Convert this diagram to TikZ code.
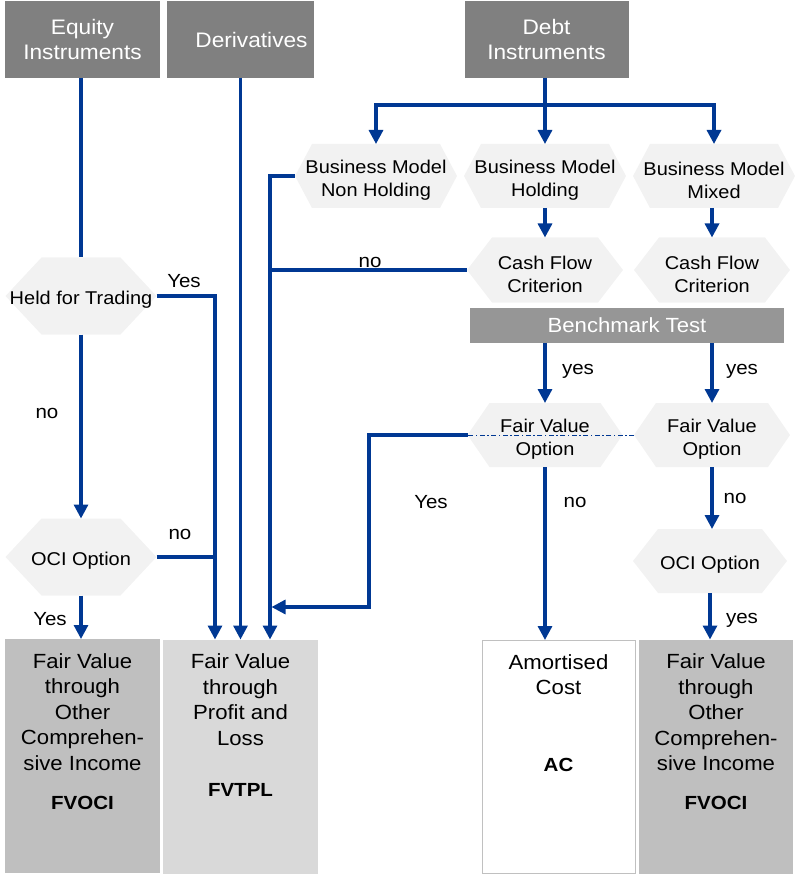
\documentclass[tikz,border=0pt]{standalone}
\usepackage{fontspec}
\setmainfont{Liberation Sans}[FakeStretch=1.08]
\usetikzlibrary{arrows.meta,calc}

\definecolor{flowblue}{RGB}{0,56,147}
\definecolor{headgray}{RGB}{128,128,128}
\definecolor{benchgray}{RGB}{150,150,150}
\definecolor{hexfill}{RGB}{242,242,242}
\definecolor{ocifill}{RGB}{191,191,191}
\definecolor{plfill}{RGB}{217,217,217}
\definecolor{acline}{RGB}{192,192,192}

% bold abbreviation under each outcome
\newcommand{\abbrfont}{\fontsize{19}{25.5}\selectfont\bfseries}

% hexagonal decision: name, cx, cy, width, height, slant, text
\newcommand{\hexbox}[7]{%
  \path[fill=hexfill] ({#2-#4/2},#3) -- ({#2-#4/2+#6},{#3-#5/2}) -- ({#2+#4/2-#6},{#3-#5/2})
    -- ({#2+#4/2},#3) -- ({#2+#4/2-#6},{#3+#5/2}) -- ({#2-#4/2+#6},{#3+#5/2}) -- cycle;
  \node[hexframe, minimum width=#4pt, minimum height=#5pt] (#1) at (#2,#3) {};
  \node[hexlabel] (#1-text) at (#2,{#3+4}) {#7};
}

\begin{document}
\begin{tikzpicture}[x=1pt,y=-1pt,
  flow/.style={draw=flowblue,line width=3.2pt},
  arr/.style={flow,-{Triangle[width=14pt,length=14pt]}},
  headbox/.style={fill=headgray,text=white,font=\fontsize{21}{25}\selectfont,
    align=center,inner sep=0pt,outer sep=0pt},
  benchbox/.style={fill=benchgray,text=white,font=\fontsize{20.5}{23}\selectfont,
    align=center,inner sep=0pt,outer sep=0pt},
  hexframe/.style={inner sep=0pt,outer sep=0pt},
  hexlabel/.style={font=\fontsize{18.5}{23}\selectfont,align=center,inner sep=0pt},
  resbox/.style={inner sep=0pt,outer sep=0pt,minimum width=155pt,minimum height=234pt},
  restext/.style={font=\fontsize{20.5}{25.5}\selectfont,align=center,anchor=north,inner sep=0pt},
  lbl/.style={font=\fontsize{19}{22}\selectfont,inner sep=0pt},
]
\useasboundingbox (0,0) rectangle (801,874);

% source categories
\node[headbox,minimum width=155pt,minimum height=77pt] (equity) at (82.5,39.5) {Equity\\Instruments};
\node[headbox,minimum width=147pt,minimum height=77pt] (deriv) at (240.5,39.5) {\hspace*{22pt}Derivatives};
\node[headbox,minimum width=164pt,minimum height=77pt] (debt) at (546.5,39.5) {Debt\\Instruments};

% decisions
\hexbox{hft}{81}{296}{151}{77}{36}{Held for Trading}
\hexbox{oci1}{81}{557}{151}{77}{36}{OCI Option}
\hexbox{bmnh}{376}{176}{162}{64}{17}{Business Model\\Non Holding}
\hexbox{bmh}{545}{176}{162}{64}{17}{Business Model\\Holding}
\hexbox{bmm}{714}{176}{162}{64}{17}{Business Model\\Mixed}
\hexbox{cfc1}{545}{270}{156}{65}{25}{Cash Flow\\Criterion}
\hexbox{cfc2}{712}{270}{156}{65}{25}{Cash Flow\\Criterion}
\node[benchbox,minimum width=314pt,minimum height=35pt] (bench) at (627,325.5) {Benchmark Test};
\hexbox{fvo1}{545}{435}{155}{64}{22}{Fair Value\\Option}
\hexbox{fvo2}{712}{435}{156}{64}{22}{Fair Value\\Option}
\hexbox{oci2}{710}{561}{154}{64}{25}{OCI Option}

% outcomes
\node[resbox,fill=ocifill] (res1) at (82.5,756) {};
\node[resbox,fill=plfill] (res2) at (240.5,756.5) {};
\node[resbox,draw=acline,line width=1pt,minimum width=153pt,minimum height=233pt] (res3) at (558.5,756.5) {};
\node[resbox,fill=ocifill,minimum width=154pt] (res4) at (716,756.5) {};

\node[restext] (res1t) at ($(res1.north)+(0,14)$)
  {Fair Value\\through\\Other\\Comprehen-\\sive Income\\[13.5pt]{\abbrfont FVOCI}};
\node[restext] (res2t) at ($(res2.north)+(0,14)$)
  {Fair Value\\through\\Profit and\\Loss\\[25.5pt]{\abbrfont FVTPL}};
\node[restext] (res3t) at ($(res3.north)+(0,14)$)
  {Amortised\\Cost\\[51.5pt]{\abbrfont AC}};
\node[restext] (res4t) at ($(res4.north)+(0,14)$)
  {Fair Value\\through\\Other\\Comprehen-\\sive Income\\[13.5pt]{\abbrfont FVOCI}};

% entry points on top of the FVTPL box
\coordinate (plin1) at ($(res2.north)+(-25.5,0)$);
\coordinate (plin3) at ($(res2.north)+(29.5,0)$);
\coordinate (plin3b) at ($(res2.north)+(31,0)$);

% equity branch
\draw[flow] (equity.south -| hft.north) -- (hft.north);
\draw[arr] (hft.south) -- (oci1.north);
\draw[arr] (hft.east) -| (plin1);
\draw[flow] (oci1.east) -- (oci1.east -| plin1);
\draw[arr] (oci1.south) -- (oci1.south |- res1.north);

% derivatives
\draw[arr] (deriv.south -| res2.north) -- (res2.north);

% debt branch
\coordinate (split) at ($(debt.south)+(0,27)$);
\draw[flow] (debt.south -| bmh.north) -- (split -| bmh.north);
\draw[arr] (split -| bmh.north) -- (bmh.north);
\draw[arr] (split -| bmh.north) -| (bmnh.north);
\draw[arr] (split -| bmh.north) -| (bmm.north);
\draw[arr] (bmh.south) -- (cfc1.north);
\draw[arr] (bmm.south -| cfc2.north) -- (cfc2.north);

% non-holding and failed cash flow test go to FVTPL
\draw[arr] (bmnh.west) -| (plin3);
\draw[flow] (cfc1.west) -- (cfc1.west -| plin3);

% benchmark test
\draw[arr] (bench.south -| fvo1.north) -- (fvo1.north);
\draw[arr] (bench.south -| fvo2.north) -- (fvo2.north);

% fair value option
\draw[draw=flowblue,line width=1pt,dash pattern=on 5pt off 2.5pt on 1.5pt off 2.5pt]
  (fvo2.west) -- (fvo1.west);
\coordinate (fvobend) at (369,607);
\draw[arr] (fvo1.west) -| (fvobend) -- (fvobend -| plin3b);
\draw[arr] (fvo1.south) -- (fvo1.south |- res3.north);
\draw[arr] (fvo2.south) -- (fvo2.south |- oci2.north);
\draw[arr] (oci2.south) -- (oci2.south |- res4.north);

% branch labels
\node[lbl] (l1) at (184,281) {Yes};
\node[lbl] (l2) at (47,413) {no};
\node[lbl] (l3) at (180,534) {no};
\node[lbl] (l4) at (50,619) {Yes};
\node[lbl] (l5) at (370,262) {no};
\node[lbl] (l6) at (578,371) {yes};
\node[lbl] (l7) at (742,371) {yes};
\node[lbl] (l8) at (431,502) {Yes};
\node[lbl] (l9) at (575,502) {no};
\node[lbl] (l10) at (735,498) {no};
\node[lbl] (l11) at (742,620) {yes};
\end{tikzpicture}
\end{document}
